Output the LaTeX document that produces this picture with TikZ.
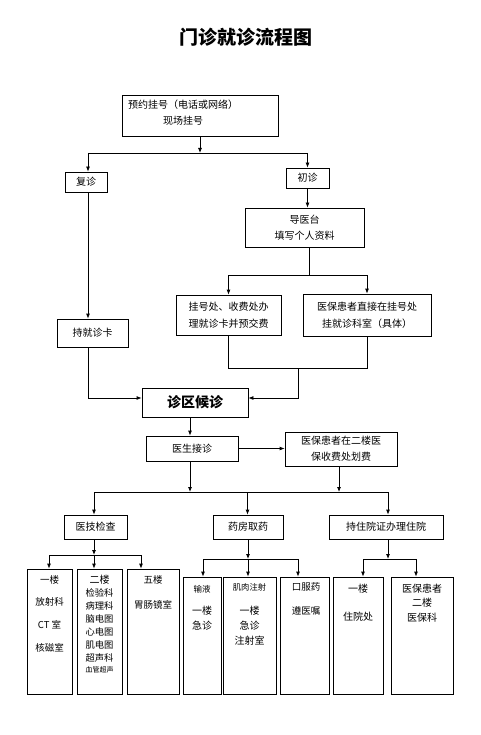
\documentclass[tikz,border=0pt]{standalone}
\usepackage{fontspec}
\setmainfont{Noto Sans CJK SC}
\usetikzlibrary{arrows.meta}
\newcommand\fs[2]{\fontsize{#1}{#2}\selectfont}
\tikzset{
  box/.style={draw, line width=0.8pt, inner sep=0pt, align=center, font=\fs{10}{16}},
  txt/.style={inner sep=0pt, align=center, anchor=north},
  ar/.style={-{Latex[length=5pt,width=4pt]}, line width=0.8pt},
  ln/.style={line width=0.8pt},
}
\begin{document}
\begin{tikzpicture}[x=1pt,y=-1pt]
\useasboundingbox[fill=white] (0,0) rectangle (480,735);
% title
\node[font=\fs{19}{22}\bfseries] (title) at (246,37) {门诊就诊流程图};
% top
\node[box, minimum width=156pt, minimum height=41pt] (reg) at (200,115.5) {};
\node[inner sep=0pt, anchor=west, align=left, font=\fs{10}{16}] (regt) at (128,113) {预约挂号（电话或网络）\\\hspace*{35pt}现场挂号};
\node[box, minimum width=42pt, minimum height=20pt] (fuzhen) at (86,182) {复诊};
\node[box, minimum width=43pt, minimum height=20pt] (chuzhen) at (307.5,178) {初诊};
\node[box, minimum width=119pt, minimum height=39pt] (daoyi) at (304.5,227.5) {导医台\\填写个人资料};
\node[box, minimum width=105pt, minimum height=40pt, font=\fs{10}{17}] (guahao) at (228.5,315) {挂号处、收费处办\\理就诊卡并预交费};
\node[box, minimum width=128pt, minimum height=42pt, font=\fs{10}{17}] (yibao1) at (367,315) {医保患者直接在挂号处\\挂就诊科室（具体）};
\node[box, minimum width=71pt, minimum height=28pt] (chijiu) at (92.5,333) {持就诊卡};
\node[box, minimum width=106pt, minimum height=29pt, font=\fs{14}{16}\bfseries] (houzhen) at (195,402.5) {诊区候诊};
\node[box, minimum width=92pt, minimum height=25pt] (yisheng) at (192,448.5) {医生接诊};
\node[box, minimum width=112pt, minimum height=34pt] (yibao2) at (341,449) {医保患者在二楼医\\保收费处划费};
\node[box, minimum width=63pt, minimum height=24pt] (yiji) at (95.5,527) {医技检查};
\node[box, minimum width=70pt, minimum height=24pt] (yaofang) at (248,527) {药房取药};
\node[box, minimum width=114pt, minimum height=24pt] (zhuyuan) at (386,527) {持住院证办理住院};
% bottom boxes
\node[box, minimum width=45pt, minimum height=125pt] (b1) at (49.5,631.5) {};
\node[box, minimum width=45pt, minimum height=125pt] (b2) at (99.5,631.5) {};
\node[box, minimum width=52pt, minimum height=125pt] (b3) at (153,631.5) {};
\node[box, minimum width=38pt, minimum height=117pt] (c1) at (202,635.5) {};
\node[box, minimum width=53pt, minimum height=117pt] (c2) at (249.5,635.5) {};
\node[box, minimum width=49pt, minimum height=117pt] (c3) at (304.5,635.5) {};
\node[box, minimum width=50pt, minimum height=117pt] (d1) at (358,635.5) {};
\node[box, minimum width=62pt, minimum height=117pt] (d2) at (422,635.5) {};
% bottom texts
\node[txt, font=\fs{9.5}{22.7}] (b1t) at (49.5,575) {一楼\\放射科\\CT 室\\核磁室};
\node[txt, font=\fs{10}{12}] (b2a) at (99.5,575) {二楼};
\node[txt, font=\fs{9.3}{13}] (b2t) at (99.5,588.5) {检验科\\病理科\\脑电图\\心电图\\肌电图\\超声科\\[-2pt]{\fs{7}{8}血管超声}};
\node[txt, font=\fs{9.5}{25}] (b3t) at (153,575) {五楼\\胃肠镜室};
\node[txt, font=\fs{8.5}{10}] (c1a) at (202,585) {输液};
\node[txt, font=\fs{10}{14.5}] (c1t) at (202,606) {一楼\\急诊};
\node[txt, font=\fs{8.3}{10}] (c2a) at (249.5,583) {肌肉注射};
\node[txt, font=\fs{10}{15}] (c2t) at (249.5,606) {一楼\\急诊\\注射室};
\node[txt, font=\fs{9.5}{24}] (c3t) at (306,582.5) {口服药\\遵医嘱};
\node[txt, font=\fs{10}{28}] (d1t) at (358,584) {一楼\\住院处};
\node[txt, font=\fs{10}{14.3}] (d2t) at (422,584) {医保患者\\二楼\\医保科};
% connectors
\coordinate (j1) at (200,153);
\coordinate (j1l) at (88,153);
\coordinate (j1r) at (307.5,153);
\draw[ar] (reg.south) -- (j1);
\draw[ln] (j1l) -- (j1r);
\draw[ar] (j1l) -- (j1l |- fuzhen.north);
\draw[ar] (j1r) -- (chuzhen.north);
\draw[ar] (chuzhen.south) -- (chuzhen.south |- daoyi.north);
\coordinate (j2) at (309,275);
\coordinate (j2l) at (228.5,275);
\coordinate (j2r) at (367,275);
\draw[ln] (j2 |- daoyi.south) -- (j2);
\draw[ln] (j2l) -- (j2r);
\draw[ar] (j2l) -- (guahao.north);
\draw[ar] (j2r) -- (yibao1.north);
\coordinate (j3l) at (228.5,368);
\coordinate (j3r) at (367,368);
\coordinate (j3) at (298,368);
\coordinate (j3d) at (298,398);
\draw[ln] (guahao.south) -- (j3l) -- (j3r) -- (yibao1.south);
\draw[ar] (j3) -- (j3d) -- (j3d -| houzhen.east);
\draw[ar] (j1l |- fuzhen.south) -- (j1l |- chijiu.north);
\coordinate (j4) at (88,398);
\draw[ar] (j4 |- chijiu.south) -- (j4) -- (j4 -| houzhen.west);
\coordinate (j5) at (190,492);
\coordinate (j5r) at (339,492);
\coordinate (j5L) at (94,492);
\coordinate (j5M) at (247.5,492);
\coordinate (j5R) at (388,492);
\draw[ar] (j5 |- houzhen.south) -- (j5 |- yisheng.north);
\draw[ar] (yisheng.east) -- (yisheng.east -| yibao2.west);
\draw[ar] (j5 |- yisheng.south) -- (j5);
\draw[ar] (j5r |- yibao2.south) -- (j5r);
\draw[ln] (j5L) -- (j5R);
\draw[ar] (j5L) -- (j5L |- yiji.north);
\draw[ar] (j5M) -- (j5M |- yaofang.north);
\draw[ar] (j5R) -- (j5R |- zhuyuan.north);
\coordinate (k1) at (94,555);
\coordinate (k1l) at (49,555);
\coordinate (k1r) at (141,555);
\draw[ar] (k1 |- yiji.south) -- (k1);
\draw[ln] (k1l) -- (k1r);
\draw[ar] (k1l) -- (k1l |- b1.north);
\draw[ar] (k1) -- (k1 |- b2.north);
\draw[ar] (k1r) -- (k1r |- b3.north);
\coordinate (k2) at (248,559);
\coordinate (k2l) at (203,559);
\coordinate (k2r) at (298,559);
\draw[ar] (k2 |- yaofang.south) -- (k2);
\draw[ln] (k2l) -- (k2r);
\draw[ar] (k2l) -- (k2l |- c1.north);
\draw[ar] (k2) -- (k2 |- c2.north);
\draw[ar] (k2r) -- (k2r |- c3.north);
\coordinate (k3) at (388,559);
\coordinate (k3l) at (363,559);
\coordinate (k3r) at (416,559);
\draw[ar] (k3 |- zhuyuan.south) -- (k3);
\draw[ln] (k3l) -- (k3r);
\draw[ar] (k3l) -- (k3l |- d1.north);
\draw[ar] (k3r) -- (k3r |- d2.north);
\end{tikzpicture}
\end{document}
